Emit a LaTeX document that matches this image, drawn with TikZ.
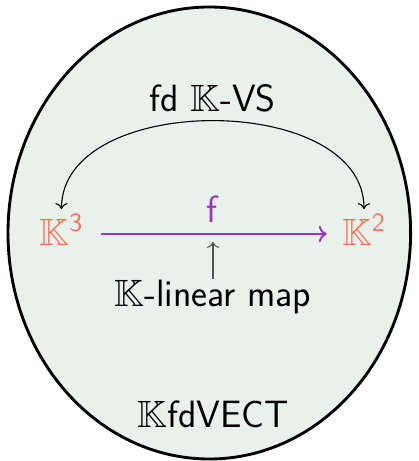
\documentclass[tikz,border=0pt]{standalone}
\usepackage{amssymb}
\usetikzlibrary{arrows.meta}
\definecolor{bgfill}{RGB}{233,241,236}
\definecolor{objcol}{RGB}{255,112,87}
\definecolor{mapcol}{RGB}{153,51,204}
\definecolor{annot}{RGB}{85,85,85}
\tikzset{
  biglbl/.style={font=\sffamily\fontsize{17.28}{20}\selectfont, inner sep=0pt, anchor=base},
  obj/.style={font=\sffamily\fontsize{17.28}{20}\selectfont, text=objcol, inner sep=0pt, anchor=base},
  farrow/.style={->, draw=mapcol, line width=0.9pt},
  thinarrow/.style={->, line width=0.5pt},
}
\begin{document}
\begin{tikzpicture}[x=0.4545pt,y=-0.4545pt]
\useasboundingbox (0,0) rectangle (418,461);
\draw[fill=bgfill, line width=1.3pt] (209.3,233) ellipse [x radius=201.3, y radius=226];
\node[biglbl] (vs) at (212.5,112) {fd $\mathbb{K}$-VS};
\node[obj] (K3) at (61.5,245) {$\mathbb{K}^{\mathsf{3}}$};
\node[obj] (K2) at (364,245) {$\mathbb{K}^{\mathsf{2}}$};
\draw[farrow] ([xshift=17.8pt,yshift=5pt]K3.base) -- coordinate[pos=0.5] (fmid) ([xshift=-16.95pt,yshift=5pt]K2.base);
\node[biglbl, text=mapcol] (f) at (212,222) {f};
\node[biglbl] (lin) at (213,306) {$\mathbb{K}$-linear map};
\draw[thinarrow, draw=annot, shorten >=3.6pt] (lin.north) -- (lin.north |- fmid);
\draw[thinarrow, <->, shorten <=2pt, shorten >=2pt] (K3.north) .. controls +(0,-122) and +(0,-122) .. (K2.north);
\node[biglbl] (cat) at (213.5,427) {$\mathbb{K}$fdVECT};
\end{tikzpicture}
\end{document}
